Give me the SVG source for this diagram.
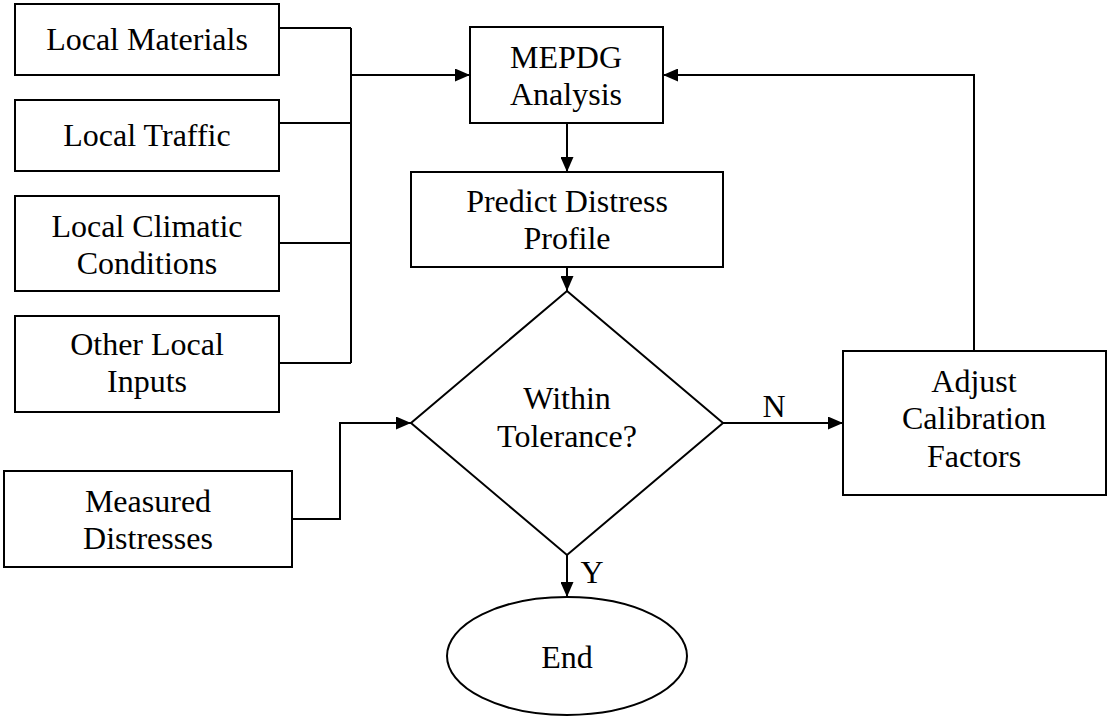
<svg xmlns="http://www.w3.org/2000/svg" width="1107" height="717" viewBox="0 0 1107 717">
<style>
.box{fill:#fff;stroke:#000;stroke-width:2}
.lbl{font-family:"Liberation Serif","Times New Roman",serif;font-size:32px;fill:#000;text-anchor:middle}
.con{fill:none;stroke:#000;stroke-width:2}
</style>
<defs>
<marker id="ah" markerUnits="userSpaceOnUse" markerWidth="15" markerHeight="13" refX="15" refY="6.5" orient="auto">
<path d="M0,0 L15,6.5 L0,13 z" fill="#000"/>
</marker>
</defs>
<rect width="1107" height="717" fill="#fff"/>
<g id="connectors">
<path class="con" d="M279,28 H351 M279,123 H351 M279,243 H351 M279,363 H351 M351,28 V363"/>
<path class="con" d="M351,75 H470" marker-end="url(#ah)"/>
<path class="con" d="M567,123 V172" marker-end="url(#ah)"/>
<path class="con" d="M567,267 V291" marker-end="url(#ah)"/>
<path class="con" d="M292,519 H340 V423 H411" marker-end="url(#ah)"/>
<path class="con" d="M723,423 H843" marker-end="url(#ah)"/>
<path class="con" d="M974,351 V75 H663" marker-end="url(#ah)"/>
<path class="con" d="M567,555 V597" marker-end="url(#ah)"/>
<text class="lbl" x="774" y="417">N</text>
<text class="lbl" x="592" y="583">Y</text>
</g>
<g id="local-materials">
<rect class="box" x="15" y="4" width="264" height="71"/>
<text class="lbl" x="147" y="50">Local Materials</text>
</g>
<g id="local-traffic">
<rect class="box" x="15" y="100" width="264" height="71"/>
<text class="lbl" x="147" y="146">Local Traffic</text>
</g>
<g id="local-climatic">
<rect class="box" x="15" y="196" width="264" height="95"/>
<text class="lbl" x="147" y="237">Local Climatic</text>
<text class="lbl" x="147" y="274">Conditions</text>
</g>
<g id="other-inputs">
<rect class="box" x="15" y="316" width="264" height="96"/>
<text class="lbl" x="147" y="355">Other Local</text>
<text class="lbl" x="147" y="392">Inputs</text>
</g>
<g id="measured">
<rect class="box" x="4" y="471" width="288" height="96"/>
<text class="lbl" x="148" y="512">Measured</text>
<text class="lbl" x="148" y="549">Distresses</text>
</g>
<g id="mepdg">
<rect class="box" x="470" y="27" width="193" height="96"/>
<text class="lbl" x="566" y="68">MEPDG</text>
<text class="lbl" x="566" y="105">Analysis</text>
</g>
<g id="predict">
<rect class="box" x="411" y="172" width="312" height="95"/>
<text class="lbl" x="567" y="212">Predict Distress</text>
<text class="lbl" x="567" y="249">Profile</text>
</g>
<g id="tolerance">
<polygon class="box" points="567,291 723,423 567,555 411,423"/>
<text class="lbl" x="567" y="409">Within</text>
<text class="lbl" x="567" y="447">Tolerance?</text>
</g>
<g id="adjust">
<rect class="box" x="843" y="351" width="263" height="144"/>
<text class="lbl" x="974" y="392">Adjust</text>
<text class="lbl" x="974" y="429">Calibration</text>
<text class="lbl" x="974" y="467">Factors</text>
</g>
<g id="end">
<ellipse class="box" cx="567" cy="656" rx="120" ry="59"/>
<text class="lbl" x="567" y="668">End</text>
</g>
</svg>
